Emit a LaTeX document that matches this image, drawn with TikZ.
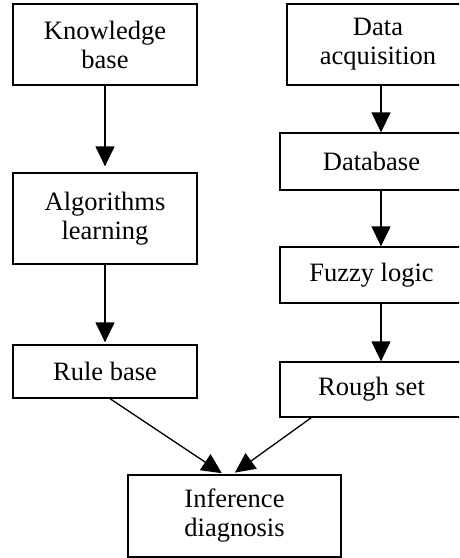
\documentclass[tikz,border=0pt]{standalone}
\usepackage{fontspec}
\setmainfont{Liberation Serif}
\usetikzlibrary{arrows.meta,calc}
\begin{document}
\begin{tikzpicture}[x=1pt,y=-1pt,
  box/.style={draw,line width=1.3pt,inner sep=0pt,align=center,
    font=\fontsize{26.5}{29}\selectfont},
  arr/.style={line width=1.3pt,-{Triangle[length=20pt,width=19pt]}}]
\useasboundingbox (0,0) rectangle (459,558);
\clip (0,0) rectangle (459,558);
\node[box,minimum width=184pt,minimum height=81pt] (kb) at (105,44.5) {Knowledge\\base};
\node[box,minimum width=184pt,minimum height=91pt] (al) at (105,218.5) {Algorithms\\learning};
\node[box,minimum width=184pt,minimum height=53pt] (rb) at (105,371.5) {Rule base};
\node[box,minimum width=182pt,minimum height=81pt] (da) at (378,44.5) {Data\\acquisition};
\node[box,minimum width=183pt,minimum height=57pt] (db) at (371.5,161.5) {Database};
\node[box,minimum width=183pt,minimum height=56pt] (fl) at (371.5,275) {Fuzzy logic};
\node[box,minimum width=183pt,minimum height=55pt] (rs) at (371.5,389.5) {Rough set};
\node[box,minimum width=213pt,minimum height=82pt] (id) at (234.5,516) {Inference\\diagnosis};
\coordinate (rx) at (381,0);
\draw[arr,shorten >=6pt] (kb.south) -- (al.north);
\draw[arr,shorten >=2pt] (al.south) -- (rb.north);
\draw[arr] (da.south -| rx) -- (db.north -| rx);
\draw[arr] (db.south -| rx) -- (fl.north -| rx);
\draw[arr] (fl.south -| rx) -- (rs.north -| rx);
\draw[arr,shorten >=2pt] ($(rb.south)+(5,0)$) -- ($(id.north)+(-11,0)$);
\draw[arr,shorten >=3pt] ($(rs.south west)+(32,0)$) -- ($(id.north)+(-2,0)$);
\end{tikzpicture}
\end{document}
